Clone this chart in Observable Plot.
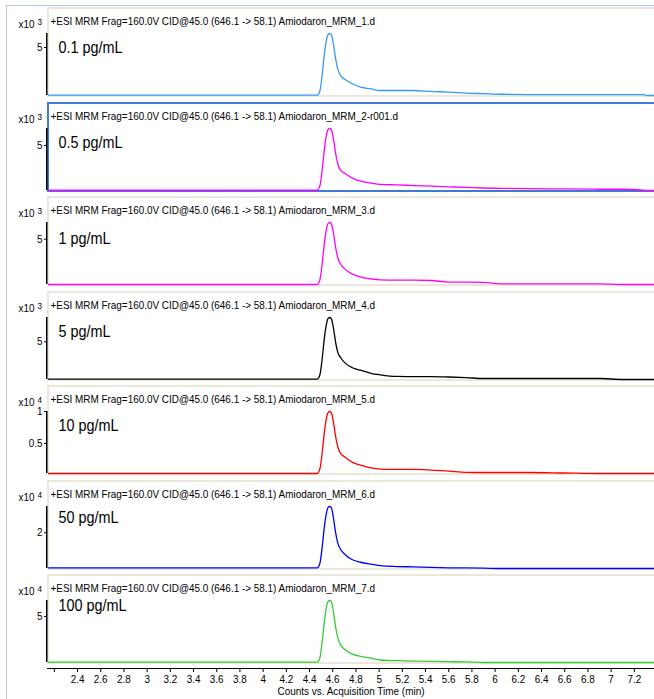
<!DOCTYPE html>
<html><head><meta charset="utf-8">
<script src="https://cdn.jsdelivr.net/npm/d3@7"></script>
<script src="https://cdn.jsdelivr.net/npm/@observablehq/plot@0.6"></script>
<style>
html,body{margin:0;padding:0;background:#fff;overflow:hidden;}
#chart{position:relative;width:654px;height:699px;overflow:hidden;font-family:"Liberation Sans",Arial,sans-serif;}
.outer{position:absolute;left:6px;top:5px;width:700px;height:720px;border-left:1.5px solid #adc9ef;border-top:1.5px solid #adc9ef;}
.frame{position:absolute;left:47px;width:640px;height:90px;box-sizing:border-box;border:2px solid #ebe7da;}
.frame.sel{border-color:#3f7ad6;}
</style></head>
<body><div id="chart"><div class="outer"></div></div>
<script>
// ---- data ----
const times = [2.15, 4.40, 4.466, 4.49, 4.51, 4.53, 4.55, 4.56, 4.575, 4.59, 4.605, 4.625, 4.645, 4.667, 4.71, 4.77, 4.84, 4.93, 5.01, 5.15, 5.3, 5.45, 5.6, 5.75, 5.9, 6.05, 6.3, 6.6, 6.9, 7.1, 7.28, 7.31, 7.37];
const trace1 = [0.03,0.03,0.03,0.52,2.27,4.54,6.01,6.36,6.46,6.29,5.41,3.84,2.69,2.09,1.64,1.22,0.87,0.70,0.52,0.52,0.52,0.42,0.36,0.25,0.19,0.13,0.10,0.10,0.10,0.10,0.10,0,0];
const trace2 = [0.03,0.03,0.03,0.55,2.41,4.82,6.40,6.78,6.88,6.67,5.78,4.13,2.89,2.27,1.86,1.38,1.03,0.83,0.69,0.62,0.55,0.48,0.41,0.34,0.28,0.24,0.21,0.17,0.14,0.14,0.03,0,0];
const trace3 = [0,0,0,0.55,2.39,4.79,6.36,6.74,6.84,6.63,5.75,4.10,2.87,2.26,1.64,1.16,0.82,0.62,0.51,0.48,0.48,0.44,0.27,0.27,0.24,0.08,0.07,0.07,0.07,0,0,0,0];
const trace4 = [0.04,0.04,0.04,0.66,2.88,5.75,7.64,8.10,8.22,7.97,6.90,4.93,3.53,2.92,2.14,1.56,1.23,0.82,0.62,0.41,0.39,0.39,0.33,0.25,0.13,0.13,0.13,0.13,0.13,0,0,0,0];
const trace5 = [0.03,0.03,0.03,0.108,0.37,0.709,0.932,0.985,1.0,0.971,0.845,0.612,0.437,0.344,0.282,0.205,0.161,0.117,0.098,0.093,0.093,0.083,0.067,0.049,0.046,0.046,0.046,0.038,0.03,0.03,0.03,0.03,0.03];
const trace6 = [0.035,0.035,0.035,0.31,1.25,2.46,3.23,3.42,3.47,3.37,2.88,2.01,1.39,1.08,0.76,0.49,0.35,0.24,0.16,0.11,0.09,0.06,0.04,0.03,0.02,0,0,0,0,0,0,0,0];
const trace7 = [0.03,0.03,0.03,0.54,2.36,4.71,6.26,6.63,6.73,6.53,5.59,3.84,2.62,1.94,1.35,0.90,0.67,0.47,0.27,0.20,0.15,0.12,0.09,0.07,0,0,0,0,0,0,0,0,0];
const traces = [trace1, trace2, trace3, trace4, trace5, trace6, trace7];

const headers = [
  "+ESI MRM Frag=160.0V CID@45.0 (646.1 -> 58.1) Amiodaron_MRM_1.d",
  "+ESI MRM Frag=160.0V CID@45.0 (646.1 -> 58.1) Amiodaron_MRM_2-r001.d",
  "+ESI MRM Frag=160.0V CID@45.0 (646.1 -> 58.1) Amiodaron_MRM_3.d",
  "+ESI MRM Frag=160.0V CID@45.0 (646.1 -> 58.1) Amiodaron_MRM_4.d",
  "+ESI MRM Frag=160.0V CID@45.0 (646.1 -> 58.1) Amiodaron_MRM_5.d",
  "+ESI MRM Frag=160.0V CID@45.0 (646.1 -> 58.1) Amiodaron_MRM_6.d",
  "+ESI MRM Frag=160.0V CID@45.0 (646.1 -> 58.1) Amiodaron_MRM_7.d"
];
const concLabels = ["0.1 pg/mL", "0.5 pg/mL", "1 pg/mL", "5 pg/mL", "10 pg/mL", "50 pg/mL", "100 pg/mL"];
const exponents = [3, 3, 3, 3, 4, 4, 4];
const yTicks = [[5], [5], [5], [5], [0.5, 1], [2], [5]];
const xDomain = [2.141, 7.374];
const xTicks = [2.2, 2.4, 2.6, 2.8, 3, 3.2, 3.4, 3.6, 3.8, 4, 4.2, 4.4, 4.6, 4.8, 5, 5.2, 5.4, 5.6, 5.8, 6, 6.2, 6.4, 6.6, 6.8, 7, 7.2];
const xTickLabels = ["", "2.4", "2.6", "2.8", "3", "3.2", "3.4", "3.6", "3.8", "4", "4.2", "4.4", "4.6", "4.8", "5", "5.2", "5.4", "5.6", "5.8", "6", "6.2", "6.4", "6.6", "6.8", "7", "7.2"];
const xTitle = "Counts vs. Acquisition Time (min)";

// ---- styles / layout ----
const colors = ["#3399ff", "#ff00ff", "#ff00ff", "#000000", "#ff0000", "#0000ff", "#33cc33"];
const labelDy = [40, 40, 42, 40, 40, 37.5, 31];
const panelTop = i => 7 + i * 94.5;
const FONT = "'Liberation Sans', Arial, sans-serif";
const baseStyle = {background: "transparent", fontFamily: FONT, fontSize: "11px", color: "black", overflow: "visible"};

const chart = document.getElementById("chart");

traces.forEach((vals, i) => {
  const y0 = panelTop(i);
  const frame = document.createElement("div");
  frame.className = "frame" + (i === 1 ? " sel" : "");
  frame.style.top = y0 + "px";
  chart.appendChild(frame);

  const rows = times.map((t, k) => ({t, v: vals[k]}));
  const svg = Plot.plot({
    width: 654, height: 90,
    marginLeft: 47, marginRight: 0, marginTop: 26, marginBottom: 2,
    style: baseStyle,
    x: {domain: xDomain, axis: null},
    y: {domain: d3.extent(vals), ticks: yTicks[i], tickFormat: d => String(d), tickSize: 3, tickPadding: 2, label: null},
    marks: [
      Plot.ruleX([xDomain[0]], {stroke: "black", strokeWidth: 1.5, dx: -0.75}),
      Plot.line(rows, {x: "t", y: "v", stroke: colors[i], strokeWidth: 1.3, curve: "monotone-x"}),
      Plot.text([headers[i]], {text: d => d, frameAnchor: "top-left", textAnchor: "start", lineAnchor: "middle", dx: 3, dy: -12.5, fontSize: 11, fill: "black"}),
      Plot.text([concLabels[i]], {text: d => d, frameAnchor: "top-left", textAnchor: "start", lineAnchor: "middle", dx: 11, dy: labelDy[i] - 26, fontSize: 16, fill: "black"}),
      Plot.text(["x10"], {text: d => d, frameAnchor: "top-left", textAnchor: "end", lineAnchor: "middle", dx: -13, dy: -9, fontSize: 11, fill: "black"}),
      Plot.text([String(exponents[i])], {text: d => d, frameAnchor: "top-left", textAnchor: "start", lineAnchor: "middle", dx: -10, dy: -11, fontSize: 9, fill: "black"})
    ]
  });
  svg.style.position = "absolute";
  svg.style.left = "0px";
  svg.style.top = y0 + "px";
  chart.appendChild(svg);
});

const axisSvg = Plot.plot({
  width: 654, height: 32,
  marginLeft: 47, marginRight: 0, marginTop: 0, marginBottom: 31,
  style: baseStyle,
  x: {domain: xDomain, ticks: xTicks, tickFormat: d => xTickLabels[xTicks.indexOf(d)], tickSize: 4, tickPadding: 3, label: null, line: true},
  marks: [
    Plot.text([xTitle], {text: d => d, frameAnchor: "bottom", lineAnchor: "middle", dy: 23, fontSize: 11, fill: "black"})
  ]
});
axisSvg.style.position = "absolute";
axisSvg.style.left = "0px";
axisSvg.style.top = "667px";
chart.appendChild(axisSvg);

// narrow the glyphs a little, like the instrument software's font
const ctx = document.createElement("canvas").getContext("2d");
chart.querySelectorAll("svg text").forEach(t => {
  const s = t.textContent;
  if (!s) return;
  const fs = parseFloat(getComputedStyle(t).fontSize) || 11;
  ctx.font = `${fs}px 'Liberation Sans', Arial, sans-serif`;
  const w = ctx.measureText(s).width;
  if (w > 0) {
    t.setAttribute("textLength", (w * 0.9).toFixed(2));
    t.setAttribute("lengthAdjust", "spacingAndGlyphs");
  }
});
</script>
</body></html>
